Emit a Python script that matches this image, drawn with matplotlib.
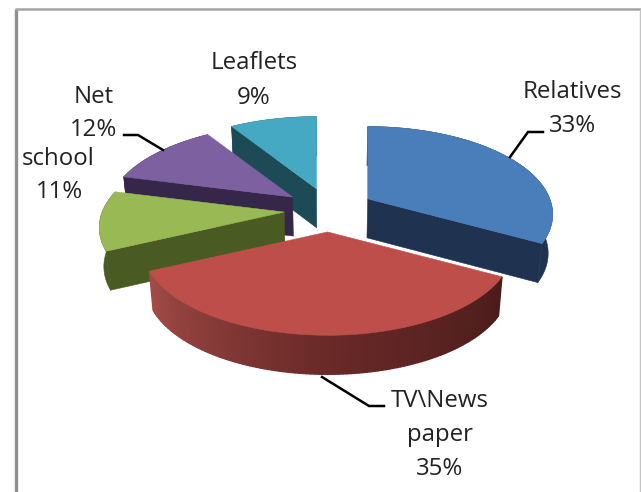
import numpy as np
import matplotlib
matplotlib.use('Agg')
import matplotlib.pyplot as plt
from matplotlib.colors import LinearSegmentedColormap
from matplotlib.patches import Polygon

# clockwise from twelve o'clock
names = ['Relatives', 'TV\\News\npaper', 'school', 'Net', 'Leaflets']
shares = [33, 35, 11, 12, 9]
top_colors = ['#4a7ebb', '#be4e4a', '#98b954', '#7d60a0', '#46a9c4']
dark_colors = ['#1f3350', '#4e1f1e', '#4a5a23', '#35264a', '#1c4a55']

# projection of the tilted disc, in pixels
CX, CY = 329, 210
RX, RY = 182, 85
PERSP = 0.177
EXPLODE_X, EXPLODE_Y = 45, 22
DEPTH = 39
TAPER = 0.02


def rim(t, apex):
    x = apex[0] + RX * np.sin(t) / (1 + PERSP * np.cos(t))
    y = apex[1] - RY * np.cos(t) / (1 + PERSP * np.cos(t))
    return x, y


def lower(x, y):
    return x - TAPER * (x - CX), y + DEPTH


def poly(ax, xs, ys, color, z, lw=0.4):
    ax.add_patch(Polygon(np.column_stack([xs, ys]), closed=True, facecolor=color,
                         edgecolor=color, linewidth=lw, zorder=z))


fig = plt.figure(figsize=(6.41, 4.92), dpi=100)
ax = fig.add_axes([0, 0, 1, 1])
ax.set_xlim(0, 641)
ax.set_ylim(492, 0)
ax.axis('off')

# frame has no bottom edge
ax.plot([15.5, 15.5], [492, 9], color='#8f8f8f', lw=2.4, solid_capstyle='butt')
ax.plot([15, 641], [9, 9], color='#a5a5a5', lw=1.8, solid_capstyle='butt')
ax.plot([640.3, 640.3], [9, 492], color='#c4c4c4', lw=1.0, solid_capstyle='butt')

fractions = np.array(shares) / sum(shares)
ends = np.cumsum(fractions) * 2 * np.pi
starts = ends - fractions * 2 * np.pi

red_shade = LinearSegmentedColormap.from_list('red_rim', ['#4a1c1b', '#6a2a28', '#a34b48'])

# back slices first, the red one sits in front of everything
order = [4, 3, 2, 0, 1]
for z, i in enumerate(order):
    mid = (starts[i] + ends[i]) / 2
    apex = (CX + EXPLODE_X * np.sin(mid), CY - EXPLODE_Y * np.cos(mid))
    t = np.linspace(starts[i], ends[i], 120)
    x, y = rim(t, apex)
    bx, by = lower(x, y)
    base = z * 10 + 2

    if i == 1:
        # the long front rim gets a horizontal shade
        for j in range(len(t) - 1):
            c = red_shade(j / (len(t) - 2))
            poly(ax, [x[j], x[j + 1], bx[j + 1], bx[j]], [y[j], y[j + 1], by[j + 1], by[j]], c, base, lw=1.0)
    else:
        poly(ax, np.r_[x, bx[::-1]], np.r_[y, by[::-1]], dark_colors[i], base)

    # cut face: the right hand slice shows its clockwise end, the left ones their start
    if i != 1:
        k = -1 if i == 0 else 0
        lx_, ly_ = lower(*apex)
        poly(ax, [apex[0], x[k], bx[k], lx_], [apex[1], y[k], by[k], ly_], dark_colors[i], base + 1)

    poly(ax, np.r_[apex[0], x], np.r_[apex[1], y], top_colors[i], base + 2)

# leader lines
leaders = [
    ([510, 528, 543], [157, 132, 132]),
    ([322, 369, 384], [377, 406, 406]),
    ([124, 138, 163], [135, 135, 150]),
]
for lx, ly in leaders:
    ax.plot(lx, ly, color='black', lw=1.8, zorder=100, solid_joinstyle='miter')

# label centre for each line of each slice
label_pos = [
    [(572, 92), (573, 126)],
    [(440, 401), (440, 435), (440, 469)],
    [(58, 159), (60, 192)],
    [(94, 97), (94, 130)],
    [(254, 63), (254, 98)],
]
for name, share, pos in zip(names, shares, label_pos):
    lines = name.split('\n') + [f'{share}%']
    for line, (px, py) in zip(lines, pos):
        ax.text(px, py, line, ha='center', va='center', fontsize=17.3, family='Open Sans',
                color='#222222', zorder=101)

plt.savefig('out.png', dpi=100)
